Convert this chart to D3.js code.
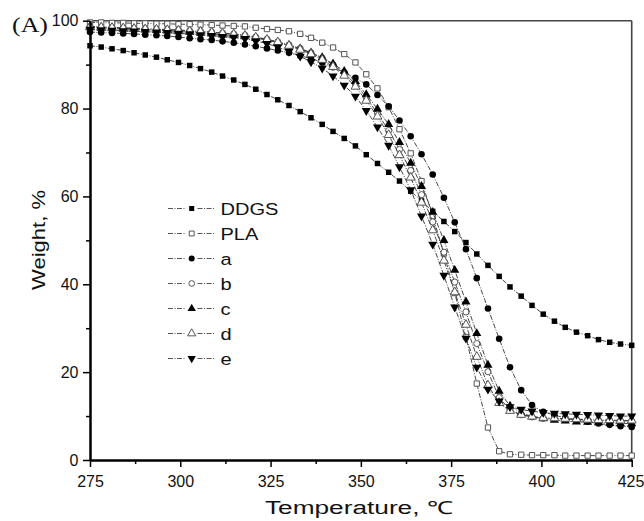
<!DOCTYPE html>
<html><head><meta charset="utf-8">
<script src="https://cdn.jsdelivr.net/npm/d3@7/dist/d3.min.js"></script>
<style>body{margin:0;background:#fff}</style></head>
<body><svg id="c" width="644" height="521"></svg>
<script>
const temps = [275.0, 278.1, 281.1, 284.2, 287.2, 290.3, 293.4, 296.4, 299.5, 302.6, 305.6, 308.7, 311.7, 314.8, 317.9, 320.9, 324.0, 327.0, 330.1, 333.2, 336.2, 339.3, 342.3, 345.4, 348.5, 351.5, 354.6, 357.7, 360.7, 363.8, 366.8, 369.9, 373.0, 376.0, 379.1, 382.1, 385.2, 388.3, 391.3, 394.4, 397.4, 400.5, 403.6, 406.6, 409.7, 412.8, 415.8, 418.9, 421.9, 425.0];

const ddgs = [94.3, 94.0, 93.6, 93.2, 92.7, 92.2, 91.7, 91.1, 90.5, 89.8, 89.1, 88.3, 87.4, 86.5, 85.5, 84.4, 83.2, 82.0, 80.7, 79.3, 77.9, 76.4, 74.8, 73.2, 71.5, 69.5, 67.5, 65.5, 63.5, 61.2, 59.0, 56.6, 54.3, 52.0, 49.5, 46.9, 44.3, 41.8, 39.4, 37.3, 35.2, 33.2, 31.6, 30.2, 29.1, 28.3, 27.4, 26.8, 26.4, 26.1];
const pla = [99.6, 99.6, 99.5, 99.5, 99.4, 99.4, 99.3, 99.3, 99.2, 99.2, 99.1, 99.0, 98.9, 98.8, 98.7, 98.4, 98.1, 97.9, 97.6, 97.0, 96.1, 95.0, 93.9, 92.4, 90.5, 87.8, 84.6, 80.3, 75.3, 69.8, 63.5, 55.5, 47.0, 38.0, 28.0, 17.4, 7.4, 2.0, 1.3, 1.2, 1.1, 1.1, 1.1, 1.0, 1.0, 1.0, 1.0, 1.0, 1.0, 1.0];
const sA = [97.4, 97.3, 97.2, 97.1, 97.0, 96.8, 96.7, 96.5, 96.3, 96.0, 95.8, 95.6, 95.3, 95.0, 94.6, 94.2, 93.7, 93.2, 92.7, 92.0, 91.4, 90.5, 89.4, 88.2, 87.0, 85.5, 83.1, 80.5, 77.3, 73.7, 69.6, 65.0, 59.7, 54.1, 48.0, 41.4, 34.5, 27.6, 21.1, 15.9, 12.5, 11.0, 10.2, 9.6, 9.1, 8.7, 8.3, 8.0, 7.7, 7.5];
const sB = [98.7, 98.6, 98.5, 98.4, 98.3, 98.2, 98.1, 98.0, 97.9, 97.7, 97.6, 97.4, 97.2, 97.0, 96.7, 96.3, 95.8, 95.2, 94.5, 93.7, 92.7, 91.5, 90.0, 88.0, 85.6, 82.5, 78.9, 75.0, 70.7, 65.9, 60.4, 54.2, 47.3, 40.5, 33.7, 26.5, 20.1, 14.2, 11.4, 10.3, 9.8, 9.5, 9.4, 9.3, 9.2, 9.1, 9.0, 9.0, 8.9, 8.9];
const sC = [98.4, 98.3, 98.2, 98.1, 98.0, 97.9, 97.8, 97.7, 97.5, 97.4, 97.2, 97.0, 96.8, 96.6, 96.4, 96.0, 95.6, 95.0, 94.4, 93.6, 92.7, 91.6, 90.2, 88.5, 86.2, 83.2, 79.9, 76.4, 72.3, 67.6, 62.3, 56.4, 50.0, 43.2, 36.0, 28.8, 21.6, 15.7, 12.3, 10.7, 9.9, 9.4, 9.1, 8.9, 8.7, 8.6, 8.5, 8.4, 8.3, 8.3];
const sD = [98.6, 98.5, 98.4, 98.3, 98.2, 98.1, 98.0, 97.9, 97.8, 97.6, 97.5, 97.3, 97.1, 96.9, 96.6, 96.2, 95.7, 95.1, 94.3, 93.4, 92.4, 91.1, 89.5, 87.5, 85.0, 81.8, 78.2, 74.0, 69.4, 64.3, 58.6, 52.3, 45.4, 38.2, 30.8, 23.5, 17.0, 13.0, 11.2, 10.3, 9.9, 9.6, 9.5, 9.4, 9.3, 9.2, 9.1, 9.1, 9.0, 9.0];
const sE = [98.0, 97.9, 97.8, 97.7, 97.6, 97.5, 97.4, 97.3, 97.1, 97.0, 96.8, 96.6, 96.4, 96.2, 95.9, 95.4, 94.8, 94.0, 93.0, 91.9, 90.6, 89.2, 87.4, 85.3, 82.8, 79.5, 75.8, 71.6, 66.7, 61.5, 55.5, 49.1, 42.0, 34.8, 27.7, 21.1, 16.1, 13.4, 12.1, 11.5, 11.1, 10.8, 10.6, 10.5, 10.4, 10.3, 10.2, 10.1, 10.0, 10.0];

const seriesNames = ["DDGS", "PLA", "a", "b", "c", "d", "e"];
const seriesValues = [ddgs, pla, sA, sB, sC, sD, sE];
const xTicks = [275, 300, 325, 350, 375, 400, 425];
const xMinor = [287.5, 312.5, 337.5, 362.5, 387.5, 412.5];
const yTicks = [0, 20, 40, 60, 80, 100];
const yMinor = [10, 30, 50, 70, 90];

const markerStyle = {
  "DDGS": {shape: d3.symbolSquare, size: 30, fill: "#000", stroke: "none", rot: 0},
  "PLA":  {shape: d3.symbolSquare, size: 28, fill: "#fff", stroke: "#555", rot: 0},
  "a":    {shape: d3.symbolCircle, size: 34, fill: "#000", stroke: "none", rot: 0},
  "b":    {shape: d3.symbolCircle, size: 30, fill: "#fff", stroke: "#555", rot: 0},
  "c":    {shape: d3.symbolTriangle, size: 36, fill: "#000", stroke: "none", rot: 0},
  "d":    {shape: d3.symbolTriangle, size: 34, fill: "#fff", stroke: "#555", rot: 0},
  "e":    {shape: d3.symbolTriangle, size: 36, fill: "#000", stroke: "none", rot: 180}
};

const svg = d3.select("#c");
const L = 90, R = 631.7, T = 20.7, B = 460;
const x = d3.scaleLinear().domain([275, 425]).range([L, R]);
const y = d3.scaleLinear().domain([0, 100]).range([B, T]);
const font = "'Liberation Sans', Arial, sans-serif";

// frame top/right
svg.append("line").attr("x1", L).attr("x2", R).attr("y1", T).attr("y2", T).attr("stroke", "#444").attr("stroke-width", 1.6);
svg.append("line").attr("x1", R).attr("x2", R).attr("y1", T).attr("y2", B).attr("stroke", "#444").attr("stroke-width", 1.6);

// series
const line = d3.line().x((d, i) => x(temps[i])).y(d => y(d));
seriesNames.forEach((name, k) => {
  const vals = seriesValues[k];
  const st = markerStyle[name];
  const g = svg.append("g");
  g.append("path").datum(vals).attr("d", line).attr("fill", "none")
    .attr("stroke", "#333").attr("stroke-width", 0.9).attr("stroke-dasharray", "5,1.5,1,1.5");
  const sym = d3.symbol().type(st.shape).size(st.size);
  g.selectAll("path.m").data(vals).join("path").attr("class", "m")
    .attr("d", sym)
    .attr("transform", (d, i) => `translate(${x(temps[i])},${y(d)}) rotate(${st.rot})`)
    .attr("fill", st.fill).attr("stroke", st.stroke).attr("stroke-width", 1);
});

// axes
const gx = svg.append("g").attr("transform", `translate(0,${B})`)
  .call(d3.axisBottom(x).tickValues(xTicks).tickSize(7).tickSizeOuter(0).tickPadding(9).tickFormat(d3.format("d")));
const gxm = svg.append("g").attr("transform", `translate(0,${B})`)
  .call(d3.axisBottom(x).tickValues(xMinor).tickSize(4).tickSizeOuter(0).tickFormat(""));
const gy = svg.append("g").attr("transform", `translate(${L},0)`)
  .call(d3.axisLeft(y).tickValues(yTicks).tickSize(7).tickSizeOuter(0).tickPadding(4.5).tickFormat(d3.format("d")));
const gym = svg.append("g").attr("transform", `translate(${L},0)`)
  .call(d3.axisLeft(y).tickValues(yMinor).tickSize(4).tickSizeOuter(0).tickFormat(""));
[gx, gxm, gy, gym].forEach(g => {
  g.select(".domain").attr("stroke", "#000").attr("stroke-width", 2);
  g.selectAll(".tick line").attr("stroke", "#000").attr("stroke-width", 1.5);
  g.selectAll("text").attr("font-family", font).attr("font-size", 16).attr("fill", "#111");
});
// keep the last x label inside the window
gx.selectAll(".tick text").filter(d => d === 425).attr("text-anchor", "end").attr("dx", 12.2);

// axis titles
svg.append("text").attr("x", 359).attr("y", 514).attr("text-anchor", "middle")
  .attr("font-family", font).attr("font-size", 18).attr("fill", "#111")
  .attr("textLength", 188).attr("lengthAdjust", "spacingAndGlyphs")
  .text("Temperature, \u2103");
svg.append("text").attr("transform", "translate(45,240) rotate(-90)").attr("text-anchor", "middle")
  .attr("font-family", font).attr("font-size", 18).attr("fill", "#111")
  .attr("textLength", 100).attr("lengthAdjust", "spacingAndGlyphs")
  .text("Weight, %");
svg.append("text").attr("x", 12).attr("y", 32)
  .attr("font-family", "'Liberation Serif', 'Times New Roman', serif").attr("font-size", 22).attr("fill", "#111")
  .attr("textLength", 36).attr("lengthAdjust", "spacingAndGlyphs")
  .text("(A)");

// legend
const lg = svg.append("g");
seriesNames.forEach((name, k) => {
  const cy = 208.5 + k * 25;
  const st = markerStyle[name];
  lg.append("line").attr("x1", 168).attr("x2", 186).attr("y1", cy).attr("y2", cy)
    .attr("stroke", "#444").attr("stroke-width", 0.9).attr("stroke-dasharray", "5,1.5,1,1.5");
  lg.append("line").attr("x1", 197.5).attr("x2", 215).attr("y1", cy).attr("y2", cy)
    .attr("stroke", "#444").attr("stroke-width", 0.9).attr("stroke-dasharray", "5,1.5,1,1.5");
  lg.append("path").attr("d", d3.symbol().type(st.shape).size(st.size * 0.85)())
    .attr("transform", `translate(191.7,${cy}) rotate(${st.rot})`)
    .attr("fill", st.fill).attr("stroke", st.stroke).attr("stroke-width", 1);
  lg.append("text").attr("transform", `translate(220.5,${cy + 6.5}) scale(1.18,1)`)
    .attr("font-family", font).attr("font-size", 17).attr("fill", "#111")
    .text(name);
});
</script></body></html>
